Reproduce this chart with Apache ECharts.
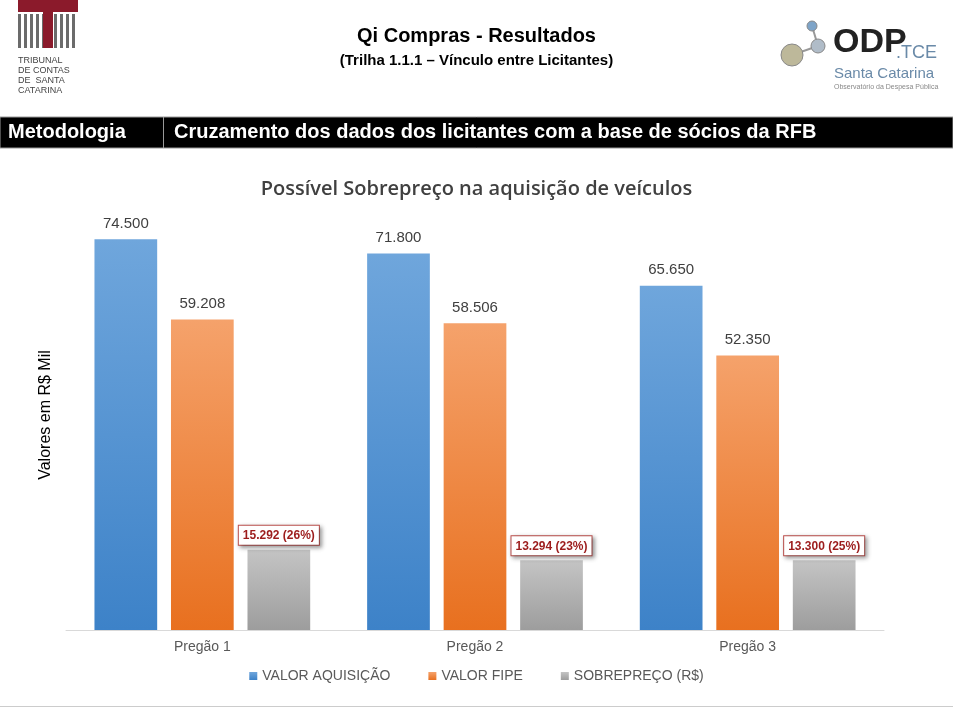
<!DOCTYPE html>
<html>
<head>
<meta charset="utf-8">
<script src="https://cdn.jsdelivr.net/npm/echarts@6/dist/echarts.min.js"></script>
<style>html,body{margin:0;padding:0;background:#fff}#main{width:953px;height:710px}</style>
</head>
<body>
<div id="main"></div>
<script>
var myChart = echarts.init(document.getElementById("main"));
var categorias = ["Pregão 1", "Pregão 2", "Pregão 3"];
var aquisicao = [74500, 71800, 65650];
var fipe = [59208, 58506, 52350];
var sobrepreco = [15292, 13294, 13300];
var percentual = ["26%", "23%", "25%"];

function grad(a, b) {
    return new echarts.graphic.LinearGradient(0, 0, 0, 1, [{offset: 0, color: a}, {offset: 1, color: b}]);
}
function fmt(v) {
    return String(v).replace(/\B(?=(\d{3})+(?!\d))/g, ".");
}

// logo TCE (listras)
var logo = [];
for (var i = 0; i < 10; i++) {
    logo.push({type: 'rect', shape: {x: 18 + i * 6, y: 14, width: 3, height: 34}, style: {fill: '#6b6b6b'}});
}
logo.push({type: 'rect', shape: {x: 18, y: 0, width: 60, height: 12}, style: {fill: '#8b1a2b'}});
logo.push({type: 'rect', shape: {x: 43, y: 12, width: 10, height: 36}, style: {fill: '#8b1a2b'}});

var option = {
    animation: false,
    textStyle: {fontFamily: 'Arial, Liberation Sans'},
    title: {
        text: 'Possível Sobrepreço na aquisição de veículos',
        left: 'center', top: 174,
        textStyle: {fontSize: 20, fontWeight: 600, color: '#404040', fontFamily: 'Open Sans'}
    },
    graphic: logo.concat([
        {type: 'text', left: 18, top: 56, style: {text: 'TRIBUNAL\nDE CONTAS\nDE  SANTA\nCATARINA', fill: '#444', font: '9px Liberation Sans', lineHeight: 10}},
        {type: 'text', left: 'center', top: 26, style: {text: 'Qi Compras - Resultados', fill: '#000', font: 'bold 20px Liberation Sans'}},
        {type: 'text', left: 'center', top: 53, style: {text: '(Trilha 1.1.1 – Vínculo entre Licitantes)', fill: '#000', font: 'bold 15px Liberation Sans'}},
        {type: 'line', shape: {x1: 792, y1: 55, x2: 818, y2: 46}, style: {stroke: '#999', lineWidth: 2}},
        {type: 'line', shape: {x1: 818, y1: 46, x2: 812, y2: 26}, style: {stroke: '#999', lineWidth: 2}},
        {type: 'circle', shape: {cx: 792, cy: 55, r: 11}, style: {fill: '#bdb89a', stroke: '#888'}},
        {type: 'circle', shape: {cx: 818, cy: 46, r: 7}, style: {fill: '#b0bcc8', stroke: '#888'}},
        {type: 'circle', shape: {cx: 812, cy: 26, r: 5}, style: {fill: '#7ea4c8', stroke: '#888'}},
        {type: 'text', left: 833, top: 26, style: {text: 'ODP', fill: '#222', font: 'bold 34px Liberation Sans Narrow, Liberation Sans'}},
        {type: 'text', left: 896, top: 44, style: {text: '.TCE', fill: '#6a8aa8', font: '18px Liberation Sans'}},
        {type: 'text', left: 834, top: 66, style: {text: 'Santa Catarina', fill: '#6a8aa8', font: '15px Liberation Sans'}},
        {type: 'text', left: 834, top: 84, style: {text: 'Observatório da Despesa Pública', fill: '#888', font: '7px Liberation Sans'}},
        {type: 'rect', shape: {x: 0, y: 117, width: 953, height: 31}, style: {fill: '#000', stroke: '#999', lineWidth: 1}},
        {type: 'rect', shape: {x: 163, y: 117, width: 1, height: 31}, style: {fill: '#999'}},
        {type: 'text', left: 8, top: 122, style: {text: 'Metodologia', fill: '#fff', font: 'bold 20px Liberation Sans'}},
        {type: 'text', left: 174, top: 122, style: {text: 'Cruzamento dos dados dos licitantes com a base de sócios da RFB', fill: '#fff', font: 'bold 20px Liberation Sans'}},
        {type: 'rect', shape: {x: 0, y: 706, width: 953, height: 1}, style: {fill: '#ccc'}}
    ]),
    legend: {
        bottom: 22, itemWidth: 8, itemHeight: 8, itemGap: 38, icon: 'rect',
        textStyle: {fontSize: 14, color: '#595959'},
        data: ['VALOR AQUISIÇÃO', 'VALOR FIPE', 'SOBREPREÇO (R$)']
    },
    grid: {left: 66, right: 69, top: 200, bottom: 80},
    xAxis: {
        type: 'category', data: categorias,
        axisLine: {lineStyle: {color: '#d9d9d9'}}, axisTick: {show: false},
        axisLabel: {fontSize: 14, color: '#595959', margin: 10}
    },
    yAxis: {
        type: 'value', min: 0, max: 82000,
        name: 'Valores em R$ Mil', nameLocation: 'middle', nameGap: 12, nameRotate: 90,
        nameTextStyle: {fontSize: 16, color: '#000'},
        axisLabel: {show: false}, splitLine: {show: false}, axisLine: {show: false}, axisTick: {show: false}
    },
    series: [
        {
            name: 'VALOR AQUISIÇÃO', type: 'bar', data: aquisicao, barWidth: '23%', barGap: '22%',
            itemStyle: {color: grad('#6fa6dc', '#3d82c8')},
            label: {show: true, position: 'top', distance: 8, fontSize: 15, color: '#404040', formatter: function (p) { return fmt(p.value); }}
        },
        {
            name: 'VALOR FIPE', type: 'bar', data: fipe, barWidth: '23%', barGap: '22%',
            itemStyle: {color: grad('#f5a26b', '#e8701f')},
            label: {show: true, position: 'top', distance: 8, fontSize: 15, color: '#404040', formatter: function (p) { return fmt(p.value); }}
        },
        {
            name: 'SOBREPREÇO (R$)', type: 'bar', data: sobrepreco, barWidth: '23%', barGap: '22%',
            itemStyle: {color: grad('#c4c4c4', '#9d9d9d')},
            label: {
                show: true, position: 'top', distance: 5,
                fontSize: 12, fontWeight: 'bold', color: '#9c1c1c',
                backgroundColor: '#fff', borderColor: '#c0504d', borderWidth: 1, padding: [4, 4, 3, 4],
                shadowColor: 'rgba(0,0,0,0.35)', shadowBlur: 4, shadowOffsetX: 2, shadowOffsetY: 2,
                formatter: function (p) { return fmt(p.value) + ' (' + percentual[p.dataIndex] + ')'; }
            }
        }
    ]
};
myChart.setOption(option);
</script>
</body>
</html>
